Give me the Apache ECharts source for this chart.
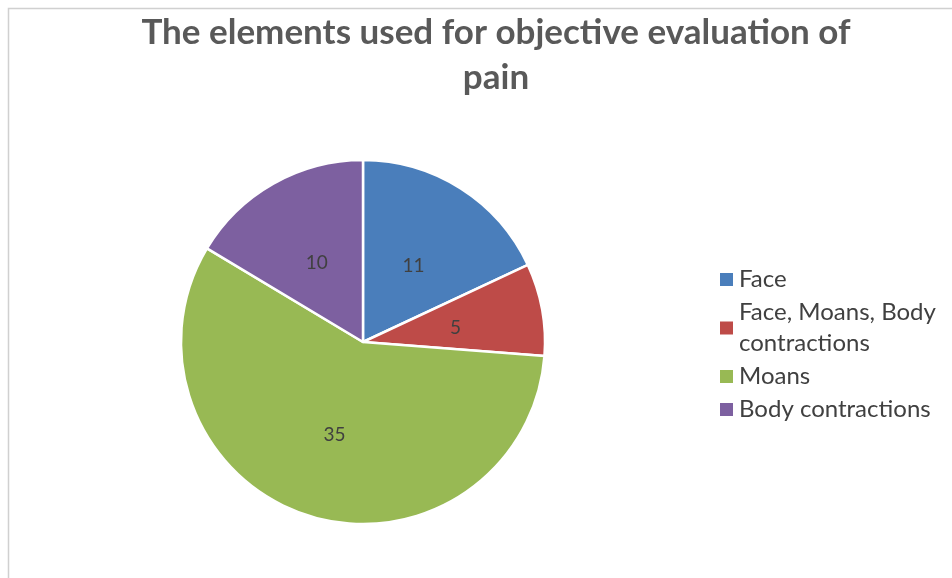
<!DOCTYPE html>
<html>
<head>
<meta charset="utf-8">
<script src="https://cdn.jsdelivr.net/npm/echarts@6/dist/echarts.min.js"></script>
<style>
  html, body { margin: 0; padding: 0; background: #ffffff; }
  #chart { width: 952px; height: 578px; }
</style>
</head>
<body>
<div id="chart"></div>
<script>
// Elements used for the objective evaluation of pain (counts per category)
const categories = ['Face', 'Face, Moans, Body contractions', 'Moans', 'Body contractions'];
const counts = [11, 5, 35, 10];
const colors = ['#4a7ebb', '#be4b48', '#98b954', '#7d60a0'];
const titleText = 'The elements used for objective evaluation of\npain';

const chart = echarts.init(document.getElementById('chart'), null, { renderer: 'canvas' });

const option = {
  backgroundColor: '#ffffff',
  animation: false,
  color: colors,
  title: {
    text: titleText,
    left: 491,
    textAlign: 'center',
    top: 5,
    textStyle: {
      fontFamily: 'Lato',
      fontWeight: 'bold',
      fontSize: 35,
      lineHeight: 45,
      color: '#595959'
    }
  },
  legend: {
    orient: 'vertical',
    left: 718,
    top: 264,
    padding: 0,
    itemWidth: 15,
    itemHeight: 15,
    itemGap: 2,
    icon: 'rect',
    data: categories,
    formatter: function (name) {
      return name === 'Face, Moans, Body contractions' ? 'Face, Moans, Body\ncontractions' : name;
    },
    textStyle: {
      fontFamily: 'Lato',
      fontSize: 24,
      lineHeight: 31,
      color: '#404040'
    }
  },
  graphic: [
    {
      type: 'rect',
      silent: true,
      shape: { x: 8.5, y: 8.5, width: 1200, height: 1200 },
      style: { fill: 'none', stroke: '#d0d0d0', lineWidth: 1.5 }
    }
  ],
  series: [
    {
      type: 'pie',
      center: [363, 342],
      radius: [0, 182],
      startAngle: 90,
      clockwise: true,
      avoidLabelOverlap: false,
      itemStyle: { borderColor: '#ffffff', borderWidth: 2.5 },
      label: {
        show: true,
        position: 'inside',
        formatter: '{c}',
        fontFamily: 'Lato',
        fontSize: 19,
        color: '#404040',
        offset: [0, 3]
      },
      labelLine: { show: false },
      emphasis: { disabled: true },
      data: categories.map((name, i) => ({ name: name, value: counts[i] }))
    }
  ]
};

chart.setOption(option);
</script>
</body>
</html>
